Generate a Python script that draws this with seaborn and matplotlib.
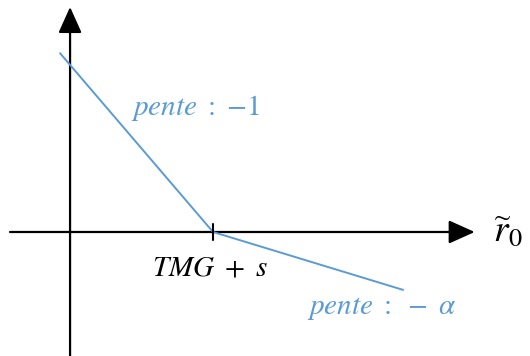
import matplotlib
matplotlib.use("Agg")
import matplotlib.pyplot as plt
import seaborn as sns
import pandas as pd

sns.set_theme(style="white")
plt.rcParams['mathtext.fontset'] = 'stix'

# data (abstract units, origin at axes crossing)
x_pts = [-0.07, 1.0, 2.33]
y_pts = [1.25, 0.0, -0.405]
kink_label = r"$TMG\ +\ s$"
slope_labels = [r"$pente\ :\ {-1}$", r"$pente\ :\ -\ \alpha$"]
axis_label = r"$\widetilde{r}_0$"

blue = "#5B9BD5"

fig = plt.figure(figsize=(5.30, 3.56), dpi=100)
ax = fig.add_axes([0, 0, 1, 1])
ax.set_xlim(-0.49, 3.217)
ax.set_ylim(-0.867, 1.622)
ax.axis("off")

df = pd.DataFrame({"x": x_pts, "y": y_pts})
sns.lineplot(data=df, x="x", y="y", sort=False, color=blue, lw=1.4, ax=ax, zorder=3)

# axes with arrows
ax.annotate("", xy=(2.83, 0), xytext=(-0.42, 0),
            arrowprops=dict(arrowstyle="-|>,head_length=1.0,head_width=0.45", mutation_scale=16,
                            lw=1.6, color="black", shrinkA=0, shrinkB=0), zorder=2)
ax.annotate("", xy=(0, 1.573), xytext=(0, -0.9),
            arrowprops=dict(arrowstyle="-|>,head_length=1.0,head_width=0.45", mutation_scale=16,
                            lw=1.6, color="black", shrinkA=0, shrinkB=0), zorder=2)

# tick at kink
ax.plot([x_pts[1], x_pts[1]], [-0.056, 0.056], color="black", lw=1.5, zorder=4)

ax.text(x_pts[1] - 0.02, -0.25, kink_label, ha="center", va="center", fontsize=21, color="black")
ax.text(0.88, 0.87, slope_labels[0], ha="center", va="center", fontsize=21, color=blue)
ax.text(2.18, -0.53, slope_labels[1], ha="center", va="center", fontsize=21, color=blue)
ax.text(3.06, 0.0, axis_label, ha="center", va="center", fontsize=27, color="black")

fig.savefig("out.png", dpi=100)
